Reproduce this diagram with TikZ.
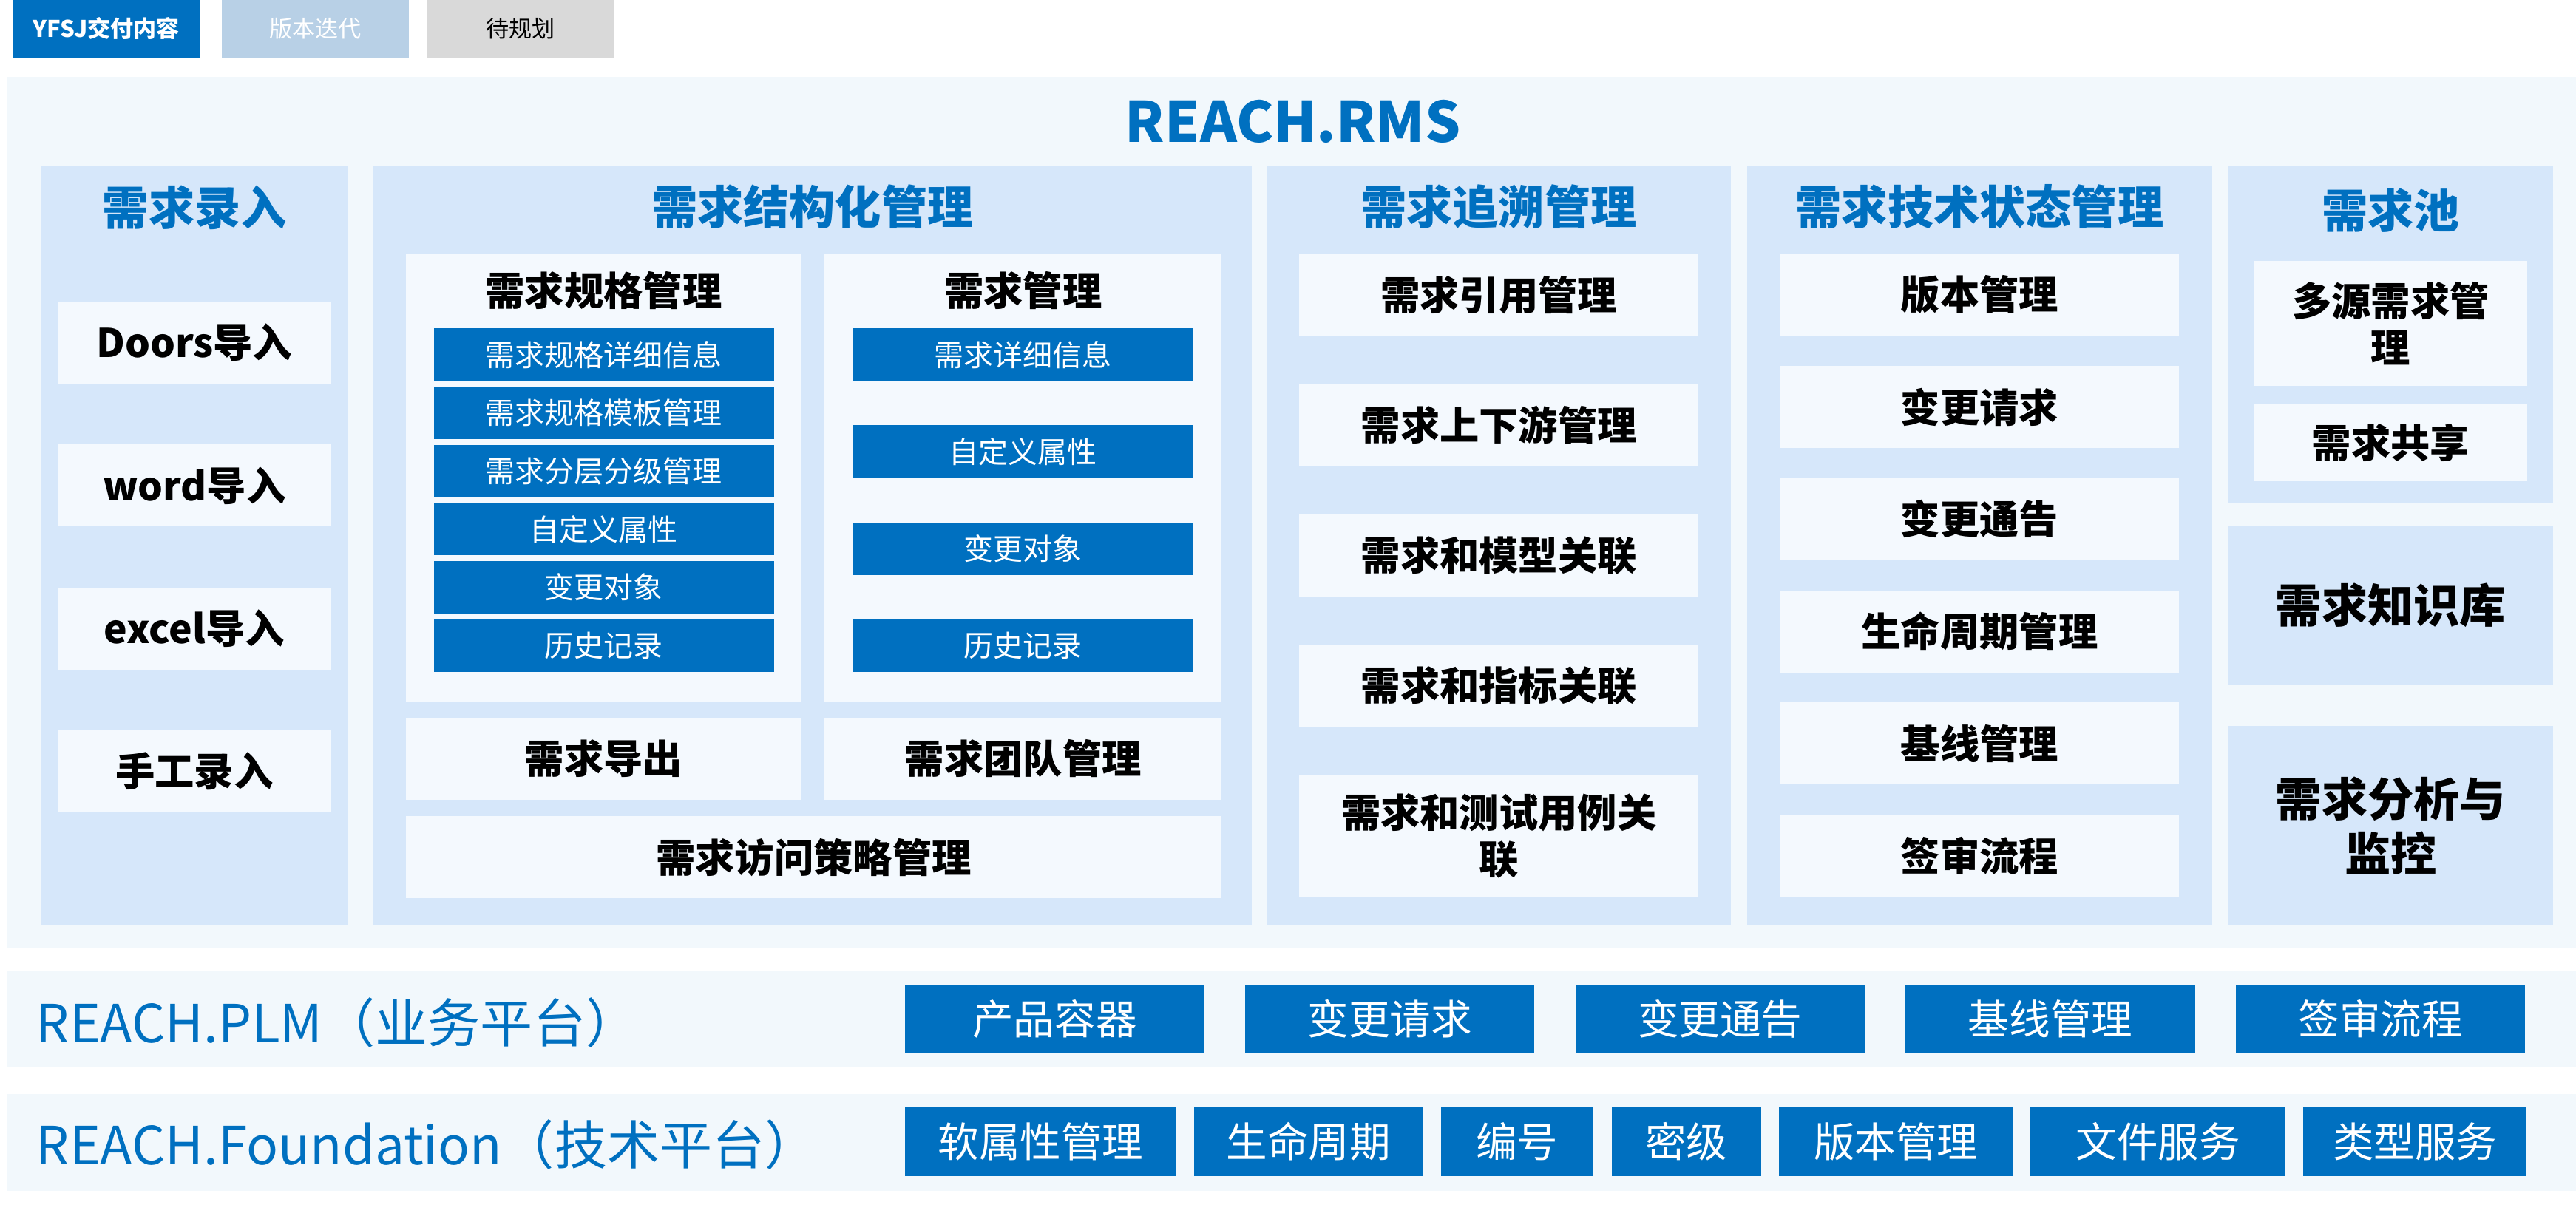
\documentclass[tikz,border=0pt]{standalone}
\usepackage{fontspec}
\setmainfont{Noto Sans CJK SC}
\usetikzlibrary{positioning}
\definecolor{rmsblue}{RGB}{0,112,192}
\definecolor{rmsbg}{RGB}{242,248,252}
\definecolor{colbg}{RGB}{214,231,250}
\definecolor{itembg}{RGB}{244,249,254}
\definecolor{iterbg}{RGB}{184,208,230}
\definecolor{planbg}{RGB}{217,217,217}
\tikzset{
  blk/.style={inner sep=0pt, outer sep=0pt, align=center},
  panel/.style={blk, anchor=north west, fill=rmsbg},
  subpanel/.style={blk, anchor=north west, fill=itembg},
  column/.style={blk, anchor=north west, fill=colbg},
  coltitle/.style={blk, text=rmsblue, font=\fontsize{28}{32}\selectfont\bfseries},
  subtitle/.style={blk, font=\fontsize{24}{28}\selectfont\bfseries},
  item/.style={blk, fill=itembg, minimum height=50pt, font=\fontsize{24}{28}\selectfont\bfseries},
  bar/.style={blk, fill=rmsblue, text=white, minimum width=207pt, minimum height=32pt, font=\fontsize{18}{20}\selectfont},
  platbox/.style={blk, fill=rmsblue, text=white, minimum height=42pt, font=\fontsize{25}{28}\selectfont},
  platlabel/.style={blk, anchor=base west, text=rmsblue, font=\fontsize{32}{36}\selectfont},
  legendbox/.style={blk, anchor=north west, minimum width=114pt, minimum height=35pt, font=\fontsize{14}{16}\selectfont}
}
\begin{document}
\begin{tikzpicture}[x=1pt,y=-1pt]
\useasboundingbox (0,0) rectangle (1568,740.3);
% legend
\node[legendbox, fill=rmsblue, text=white, font=\fontsize{14}{16}\selectfont\bfseries] (deliv) at (7.7,0) {YFSJ交付内容};
\node[legendbox, fill=iterbg, text=white] (iter) at (135,0) {版本迭代};
\node[legendbox, fill=planbg] (plan) at (260,0) {待规划};
% REACH.RMS
\node[panel, minimum width=1564pt, minimum height=530pt] (rms) at (4,47) {};
\node[blk, text=rmsblue, font=\fontsize{34}{38}\selectfont\bfseries] (rmstitle) at (787,74) {REACH.RMS};
\node[column, minimum width=187pt, minimum height=462.5pt] (entry) at (25,101) {};
\node[column, minimum width=535pt, minimum height=462.5pt] (struct) at (227,101) {};
\node[column, minimum width=282.5pt, minimum height=462.5pt] (trace) at (771,101) {};
\node[column, minimum width=283pt, minimum height=462.5pt] (tech) at (1063.5,101) {};
\node[column, minimum width=197.5pt, minimum height=205pt] (pool) at (1356.5,101) {};
\node[column, minimum width=197.5pt, minimum height=97pt, font=\fontsize{28}{32}\selectfont\bfseries] (kb) at (1356.5,320) {需求知识库};
\node[column, minimum width=197.5pt, minimum height=121.5pt, font=\fontsize{28}{33}\selectfont\bfseries] (monitor) at (1356.5,442) {需求分析与\\监控};
% 需求录入
\node[coltitle] (entryhead) at ([yshift=-25.5pt]entry.north) {需求录入};
\node[item, minimum width=165.5pt, anchor=north] (doors) at (118.3,183.6) {Doors导入};
\node[item, minimum width=165.5pt, below=37pt of doors] (word) {word导入};
\node[item, minimum width=165.5pt, below=37pt of word] (excel) {excel导入};
\node[item, minimum width=165.5pt, below=37pt of excel] (manual) {手工录入};
% 需求结构化管理
\node[coltitle] (structhead) at ([yshift=-25pt]struct.north) {需求结构化管理};
\node[subpanel, minimum width=241pt, minimum height=272.5pt] (spec) at (247,154.5) {};
\node[subpanel, minimum width=241.5pt, minimum height=272.5pt] (reqm) at (502,154.5) {};
\node[subtitle] (spechead) at ([yshift=-22.5pt]spec.north) {需求规格管理};
\node[subtitle] (reqmhead) at ([yshift=-22.5pt]reqm.north) {需求管理};
\node[bar, anchor=north] (specinfo) at ([yshift=-45.5pt]spec.north) {需求规格详细信息};
\node[bar, below=3.4pt of specinfo] (spectpl) {需求规格模板管理};
\node[bar, below=3.4pt of spectpl] (speclvl) {需求分层分级管理};
\node[bar, below=3.4pt of speclvl] (specattr) {自定义属性};
\node[bar, below=3.4pt of specattr] (specchg) {变更对象};
\node[bar, below=3.4pt of specchg] (spechist) {历史记录};
\node[bar, anchor=north] (reqinfo) at ([yshift=-45.5pt]reqm.north) {需求详细信息};
\node[bar, below=27pt of reqinfo] (reqattr) {自定义属性};
\node[bar, below=27pt of reqattr] (reqchg) {变更对象};
\node[bar, below=27pt of reqchg] (reqhist) {历史记录};
\node[item, minimum width=241pt, below=10pt of spec] (export) {需求导出};
\node[item, minimum width=241.5pt, below=10pt of reqm] (team) {需求团队管理};
\node[item, minimum width=496.5pt, anchor=north west] (access) at (247,497) {需求访问策略管理};
% 需求追溯管理
\node[coltitle] (tracehead) at ([yshift=-25pt]trace.north) {需求追溯管理};
\node[item, minimum width=243pt, anchor=north] (cite) at (912.4,154.5) {需求引用管理};
\node[item, minimum width=243pt, below=29.3pt of cite] (updown) {需求上下游管理};
\node[item, minimum width=243pt, below=29.3pt of updown] (model) {需求和模型关联};
\node[item, minimum width=243pt, below=29.3pt of model] (index) {需求和指标关联};
\node[item, minimum width=243pt, minimum height=74.5pt, below=29.3pt of index] (testcase) {需求和测试用例关\\联};
% 需求技术状态管理
\node[coltitle] (techhead) at ([yshift=-25pt]tech.north) {需求技术状态管理};
\node[item, minimum width=242.5pt, anchor=north] (version) at (1205,154.5) {版本管理};
\node[item, minimum width=242.5pt, below=18.3pt of version] (request) {变更请求};
\node[item, minimum width=242.5pt, below=18.3pt of request] (notice) {变更通告};
\node[item, minimum width=242.5pt, below=18.3pt of notice] (life) {生命周期管理};
\node[item, minimum width=242.5pt, below=18.3pt of life] (baseline) {基线管理};
\node[item, minimum width=242.5pt, below=18.3pt of baseline] (signoff) {签审流程};
% 需求池
\node[coltitle] (poolhead) at ([yshift=-27pt]pool.north) {需求池};
\node[item, minimum width=166pt, minimum height=76pt, anchor=north] (multi) at (1455.2,159) {多源需求管\\理};
\node[item, minimum width=166pt, minimum height=47pt, below=11pt of multi] (share) {需求共享};
% REACH.PLM
\node[panel, minimum width=1564pt, minimum height=59pt] (plm) at (4,591) {};
\node[platlabel] (plmlabel) at (22,634.6) {REACH.PLM（业务平台）};
\node[platbox, minimum width=182pt, anchor=north west] (container) at (551,599.4) {产品容器};
\node[platbox, minimum width=176pt, right=25pt of container] (plmreq) {变更请求};
\node[platbox, minimum width=176pt, right=25pt of plmreq] (plmnotice) {变更通告};
\node[platbox, minimum width=176pt, right=25pt of plmnotice] (plmbase) {基线管理};
\node[platbox, minimum width=176pt, right=25pt of plmbase] (plmsign) {签审流程};
% REACH.Foundation
\node[panel, minimum width=1564pt, minimum height=59pt] (fnd) at (4,666) {};
\node[platlabel] (fndlabel) at (22,709) {REACH.Foundation（技术平台）};
\node[platbox, minimum width=165pt, anchor=north west] (softattr) at (551,674) {软属性管理};
\node[platbox, minimum width=139pt, right=11pt of softattr] (fndlife) {生命周期};
\node[platbox, minimum width=93pt, right=11pt of fndlife] (number) {编号};
\node[platbox, minimum width=91pt, right=11pt of number] (secret) {密级};
\node[platbox, minimum width=142pt, right=11pt of secret] (fndver) {版本管理};
\node[platbox, minimum width=155pt, right=11pt of fndver] (files) {文件服务};
\node[platbox, minimum width=136pt, right=11pt of files] (types) {类型服务};
\end{tikzpicture}
\end{document}
